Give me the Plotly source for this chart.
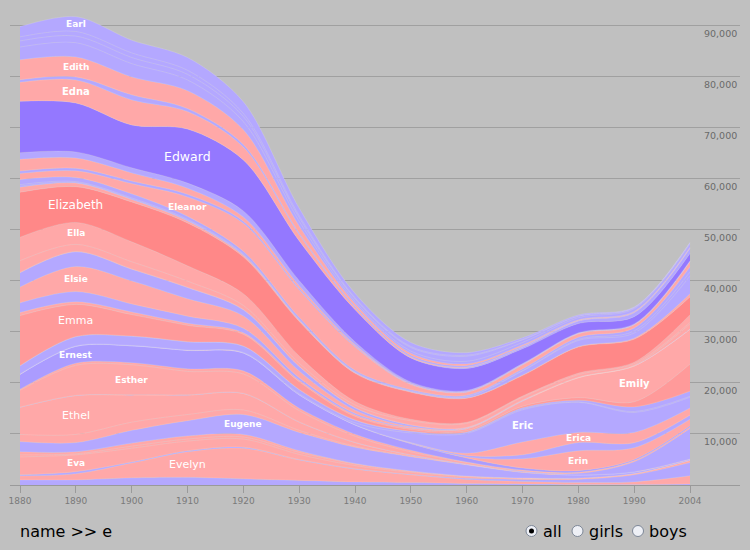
import plotly.graph_objects as go

# ---------------- data (values in thousands per million babies) ----------------
years = [1880, 1890, 1900, 1910, 1920, 1930, 1940, 1950, 1960, 1970, 1980, 1990, 2000]
year_labels = ["1880", "1890", "1900", "1910", "1920", "1930", "1940", "1950",
               "1960", "1970", "1980", "1990", "2004"]
y_ticks = [10000, 20000, 30000, 40000, 50000, 60000, 70000, 80000, 90000]

earl      = [2.0, 2.9, 2.5, 2.5, 2.3, 1.5, 0.9, 0.8, 0.5, 0.3, 0.2, 0.1, 0.1]
ed        = [0.8, 0.9, 0.9, 0.8, 0.6, 0.4, 0.2, 0.2, 0.2, 0.1, 0.05, 0.05, 0.05]
eddie     = [1.2, 1.3, 1.2, 1.1, 1.0, 0.7, 0.5, 0.7, 1.0, 0.5, 0.3, 0.2, 0.2]
edgar     = [2.5, 2.8, 2.6, 2.1, 1.6, 0.9, 0.4, 0.4, 0.5, 0.5, 0.4, 0.5, 0.6]
edith     = [3.9, 3.9, 3.5, 3.5, 2.9, 1.4, 0.5, 0.4, 0.3, 0.2, 0.1, 0.1, 0.1]
edmund    = [0.5, 0.6, 1.0, 0.6, 0.5, 0.3, 0.3, 0.3, 0.3, 0.2, 0.1, 0.1, 0.1]
edna      = [3.7, 4.5, 4.9, 3.4, 2.5, 1.2, 0.4, 0.2, 0.1, 0.05, 0.05, 0.05, 0.05]
eduardo   = [0.0, 0.0, 0.0, 0.0, 0.0, 0.0, 0.0, 0.05, 0.2, 0.3, 0.5, 0.8, 1.0]
edward    = [10.1, 9.6, 8.4, 10.6, 10.0, 7.8, 6.3, 4.7, 4.3, 2.9, 1.8, 1.4, 1.4]
edwin     = [1.3, 1.2, 1.0, 1.0, 1.2, 1.0, 0.6, 0.3, 0.2, 0.15, 0.1, 0.1, 0.1]
effie     = [2.3, 2.0, 1.6, 1.2, 0.8, 0.5, 0.2, 0.1, 0.05, 0.05, 0.05, 0.05, 0.05]
elbert    = [0.45, 0.5, 0.5, 0.5, 0.4, 0.3, 0.2, 0.1, 0.1, 0.05, 0.05, 0.05, 0.05]
eleanor   = [1.2, 1.3, 2.0, 3.8, 5.5, 5.4, 4.6, 1.0, 0.6, 0.8, 0.7, 0.6, 1.0]
eli       = [1.0, 0.8, 0.8, 0.6, 0.5, 0.4, 0.3, 0.2, 0.2, 0.3, 0.4, 0.6, 1.0]
elias     = [0.3, 0.2, 0.2, 0.2, 0.2, 0.1, 0.1, 0.1, 0.1, 0.1, 0.2, 0.4, 0.8]
elijah    = [0.2, 0.1, 0.1, 0.1, 0.1, 0.1, 0.1, 0.1, 0.2, 0.8, 1.2, 1.0, 3.5]
eliza     = [1.0, 0.7, 0.5, 0.4, 0.3, 0.2, 0.1, 0.1, 0.1, 0.1, 0.1, 0.2, 0.6]
elizabeth = [8.8, 7.0, 7.8, 8.4, 7.2, 6.8, 5.5, 5.3, 4.7, 4.0, 5.1, 4.5, 3.5]
ella      = [4.6, 4.3, 3.9, 3.0, 2.3, 1.4, 0.7, 0.3, 0.2, 0.2, 0.3, 0.3, 1.5]
ellen     = [2.3, 1.4, 1.4, 1.2, 0.8, 0.6, 0.5, 0.8, 0.8, 0.6, 0.5, 0.3, 0.3]
ellie     = [0.05, 0.05, 0.05, 0.05, 0.05, 0.02, 0.02, 0.02, 0.02, 0.05, 0.05, 0.1, 1.0]
elmer     = [2.8, 2.9, 2.3, 2.2, 1.2, 0.9, 0.5, 0.3, 0.1, 0.05, 0.02, 0.02, 0.02]
elsie     = [3.1, 4.9, 4.5, 3.4, 2.4, 1.3, 0.6, 0.2, 0.1, 0.05, 0.02, 0.02, 0.02]
emil      = [1.9, 2.0, 1.6, 1.4, 0.9, 0.5, 0.3, 0.1, 0.05, 0.05, 0.02, 0.02, 0.02]
emily     = [0.6, 0.5, 0.5, 0.4, 0.3, 0.3, 0.3, 0.3, 0.4, 1.0, 3.9, 7.0, 6.8]
emma      = [9.8, 6.3, 4.2, 3.2, 2.3, 1.5, 0.7, 0.3, 0.2, 0.3, 0.5, 1.0, 5.3]
emmanuel  = [0.05, 0.05, 0.05, 0.05, 0.05, 0.05, 0.05, 0.05, 0.1, 0.2, 0.3, 0.9, 1.0]
emmett    = [1.6, 1.8, 1.8, 1.6, 1.2, 0.8, 0.5, 0.3, 0.2, 0.2, 0.1, 0.2, 0.2]
eric      = [0.05, 0.05, 0.05, 0.05, 0.1, 0.2, 0.4, 1.9, 3.9, 6.3, 5.9, 3.9, 2.1]
erica     = [0.0, 0.0, 0.0, 0.0, 0.0, 0.0, 0.0, 0.05, 0.4, 2.5, 2.0, 2.0, 1.4]
erik      = [0.0, 0.0, 0.0, 0.0, 0.0, 0.0, 0.02, 0.1, 0.3, 0.8, 1.6, 1.0, 0.8]
erin      = [0.02, 0.02, 0.02, 0.02, 0.02, 0.02, 0.02, 0.05, 0.2, 1.8, 3.9, 2.3, 1.3]
ernest    = [2.9, 3.3, 3.3, 3.6, 3.5, 2.6, 1.8, 1.3, 0.8, 0.4, 0.3, 0.2, 0.2]
ernestine = [0.2, 0.4, 0.4, 0.5, 0.6, 0.5, 0.4, 0.3, 0.1, 0.05, 0.02, 0.02, 0.01]
esther    = [3.3, 5.9, 5.9, 4.6, 3.8, 2.2, 1.2, 0.6, 0.3, 0.2, 0.2, 0.2, 0.3]
ethan     = [0.05, 0.05, 0.05, 0.05, 0.05, 0.05, 0.05, 0.05, 0.05, 0.1, 0.3, 2.0, 6.0]
ethel     = [5.3, 7.6, 5.3, 3.8, 3.2, 1.6, 0.7, 0.2, 0.05, 0.05, 0.02, 0.02, 0.02]
etta      = [1.4, 1.6, 1.6, 1.2, 0.9, 0.4, 0.2, 0.1, 0.05, 0.05, 0.02, 0.02, 0.02]
eugene    = [2.0, 1.8, 2.5, 3.0, 3.9, 3.6, 3.2, 2.8, 2.2, 1.1, 0.6, 0.3, 0.2]
eula      = [0.6, 0.4, 0.6, 0.6, 0.5, 0.3, 0.1, 0.05, 0.05, 0.02, 0.02, 0.01, 0.01]
eunice    = [0.4, 0.2, 0.4, 0.4, 0.4, 0.4, 0.3, 0.2, 0.1, 0.05, 0.02, 0.02, 0.02]
eva       = [3.5, 3.3, 2.7, 1.9, 1.6, 1.0, 0.6, 0.4, 0.3, 0.2, 0.2, 0.2, 0.4]
evan      = [0.2, 0.4, 0.2, 0.2, 0.2, 0.1, 0.1, 0.1, 0.2, 0.4, 0.6, 1.4, 2.6]
evelyn    = [0.8, 1.2, 2.9, 5.0, 6.0, 4.0, 2.5, 1.5, 0.8, 0.5, 0.4, 0.5, 1.6]
everett   = [1.0, 1.0, 1.4, 1.5, 1.2, 0.9, 0.6, 0.5, 0.3, 0.2, 0.1, 0.1, 0.2]

# names in alphabetical order = top of the stack to the bottom
names = ["Earl", "Ed", "Eddie", "Edgar", "Edith", "Edmund", "Edna", "Eduardo", "Edward",
         "Edwin", "Effie", "Elbert", "Eleanor", "Eli", "Elias", "Elijah", "Eliza",
         "Elizabeth", "Ella", "Ellen", "Ellie", "Elmer", "Elsie", "Emil", "Emily", "Emma",
         "Emmanuel", "Emmett", "Eric", "Erica", "Erik", "Erin", "Ernest", "Ernestine",
         "Esther", "Ethan", "Ethel", "Etta", "Eugene", "Eula", "Eunice", "Eva", "Evan",
         "Evelyn", "Everett"]
series = [earl, ed, eddie, edgar, edith, edmund, edna, eduardo, edward,
          edwin, effie, elbert, eleanor, eli, elias, elijah, eliza,
          elizabeth, ella, ellen, ellie, elmer, elsie, emil, emily, emma,
          emmanuel, emmett, eric, erica, erik, erin, ernest, ernestine,
          esther, ethan, ethel, etta, eugene, eula, eunice, eva, evan,
          evelyn, everett]
girls = {"Edith", "Edna", "Effie", "Eleanor", "Eliza", "Elizabeth", "Ella", "Ellen",
         "Ellie", "Elsie", "Emily", "Emma", "Erica", "Erin", "Ernestine", "Esther",
         "Ethel", "Etta", "Eula", "Eunice", "Eva", "Evelyn"}

# ---------------- styles ----------------
BOY, GIRL = "#b4a8ff", "#ffa8a8"
special_color = {"Edward": "#9478ff", "Elizabeth": "#ff8888", "Emma": "#ff9a9a",
                 "Ernest": "#ab9cff"}
# label: (year where the label sits, font size, bold)
labels = {"Earl": (1890, 9, True), "Edith": (1890, 9, True), "Edna": (1890, 10, True),
          "Edward": (1910, 12.5, False), "Elizabeth": (1890, 12, False),
          "Eleanor": (1910, 9, True), "Ella": (1890, 9, True), "Elsie": (1890, 9, True),
          "Emma": (1890, 11, False), "Ernest": (1890, 9, True), "Esther": (1900, 9, True),
          "Ethel": (1890, 11, False), "Eugene": (1920, 9, True), "Eva": (1890, 9, True),
          "Evelyn": (1910, 11, False), "Eric": (1970, 10, True), "Erica": (1980, 9, True),
          "Erin": (1980, 9, True), "Emily": (1990, 10, True)}

W, H = 750, 550
L, R, T, B = 10, 10, 5, 65
X0_PX, X1_PX = 20, 690          # pixel positions of first / last data point
px_per_year = (X1_PX - X0_PX) / (years[-1] - years[0])
x_range = [years[0] - (X0_PX - L) / px_per_year, years[-1] + (W - R - X1_PX) / px_per_year]
y_range = [0, 94000]

fig = go.Figure()
for name, vals in reversed(list(zip(names, series))):
    color = special_color.get(name, GIRL if name in girls else BOY)
    fig.add_trace(go.Scatter(
        x=years, y=[v * 1000 for v in vals], mode="lines", stackgroup="one",
        line=dict(width=0.6, color="rgba(255,255,255,0.22)", shape="spline", smoothing=0.9),
        fillcolor=color, name=name, hoverinfo="skip", showlegend=False))

# band labels positioned at the middle of each band
idx = {n: i for i, n in enumerate(names)}
for name, (yr, size, bold) in labels.items():
    j = years.index(yr)
    below = sum(series[k][j] for k in range(idx[name] + 1, len(names)))
    mid = (below + series[idx[name]][j] / 2) * 1000
    fig.add_annotation(x=yr, y=mid, text=f"<b>{name}</b>" if bold else name,
                       showarrow=False, xanchor="center", yanchor="middle",
                       font=dict(family="DejaVu Sans", size=size, color="white"))

# y tick labels: right aligned, just below each grid line
for v in y_ticks:
    fig.add_annotation(x=1, xref="paper", y=v, text=f"{v:,}", showarrow=False,
                       xanchor="right", yanchor="middle", xshift=-1, yshift=-8,
                       font=dict(family="DejaVu Sans", size=9.5, color="#6a6a6a"))

# bottom controls
pw, ph = W - L - R, H - T - B
def px(xp): return (xp - L) / pw
def py(yp): return (H - B - yp) / ph

fig.add_annotation(x=px(18), y=py(531), xref="paper", yref="paper", text="name >> e",
                   showarrow=False, xanchor="left", yanchor="middle",
                   font=dict(family="DejaVu Sans", size=16, color="black"))
radios = [("all", 531.5, True), ("girls", 577.5, False), ("boys", 638, False)]
for text, cx, sel in radios:
    r = 5.5
    fig.add_shape(type="circle", xref="paper", yref="paper",
                  x0=px(cx - r), x1=px(cx + r), y0=py(531 + r), y1=py(531 - r),
                  fillcolor="#eef0f6", line=dict(color="#7d8797", width=1))
    if sel:
        fig.add_shape(type="circle", xref="paper", yref="paper",
                      x0=px(cx - 2.5), x1=px(cx + 2.5), y0=py(533.5), y1=py(528.5),
                      fillcolor="black", line=dict(color="black", width=0))
    fig.add_annotation(x=px(cx + 9), y=py(531), xref="paper", yref="paper", text=text,
                       showarrow=False, xanchor="left", yanchor="middle",
                       font=dict(family="DejaVu Sans", size=16, color="black"))

fig.update_layout(
    width=W, height=H, margin=dict(l=L, r=R, t=T, b=B, pad=0),
    paper_bgcolor="#c0c0c0", plot_bgcolor="#c0c0c0", showlegend=False,
    xaxis=dict(range=x_range, tickmode="array", tickvals=years, ticktext=year_labels,
               ticks="outside", ticklen=7, tickcolor="#9a9a9a", showgrid=False,
               showline=True, linecolor="#9a9a9a", linewidth=1, zeroline=False,
               tickfont=dict(family="DejaVu Sans", size=9, color="#7a7a7a"), fixedrange=True),
    yaxis=dict(range=y_range, tickmode="array", tickvals=y_ticks, showticklabels=False,
               showgrid=True, gridcolor="#a0a0a0", gridwidth=1, zeroline=False,
               showline=False, fixedrange=True),
)
fig.write_html("out.html", config={"displayModeBar": False},
               post_script="document.body.style.margin='0';document.body.style.background='#c0c0c0';")
